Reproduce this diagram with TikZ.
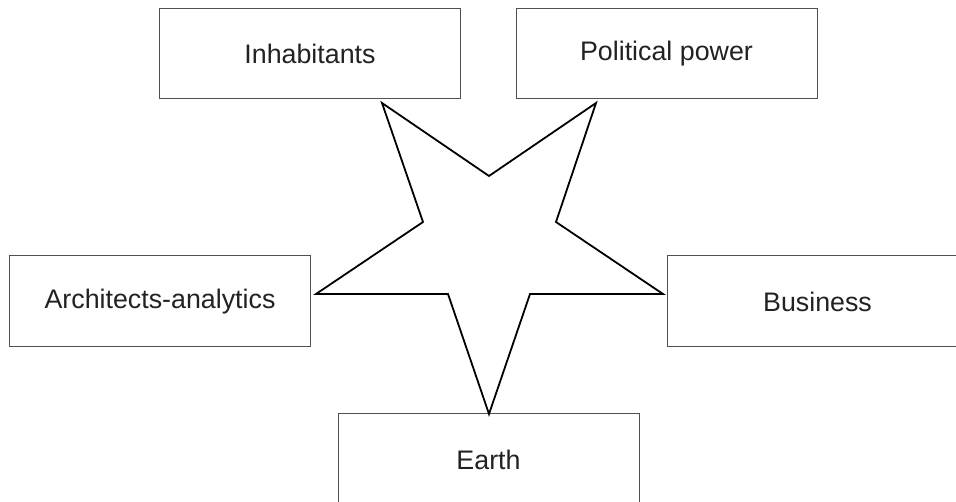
\documentclass[tikz,border=0pt]{standalone}
\usepackage{fontspec}
\setmainfont{Liberation Sans}
\definecolor{boxline}{HTML}{505050}
\definecolor{txt}{HTML}{222222}
\begin{document}
\begin{tikzpicture}[x=1pt,y=-1pt,
  box/.style={draw=boxline,line width=1pt,fill=white,inner sep=0pt,
    minimum width=301pt,minimum height=90pt,text=txt,
    font=\fontsize{26.8}{32}\selectfont},
  starline/.style={draw=black,line width=1.8pt,line join=miter}]
\useasboundingbox (0,0) rectangle (956,502);
\node[box] (inh) at (310,54) {Inhabitants};
\node[box] (pol) at (666.5,54) {Political power};
\node[box,minimum height=91pt] (arc) at (160,301.5) {Architects-analytics};
\node[box,minimum height=91pt] (bus) at (817.5,301.5) {Business};
\node[box,minimum height=91pt] (ear) at (488.5,459.5) {Earth};
\coordinate (tl) at (382,103);
\coordinate (it) at (489,176);
\coordinate (tr) at (596,103);
\coordinate (ir) at (556,222);
\coordinate (rt) at (663,294);
\coordinate (ibr) at (530,294);
\coordinate (bt) at (489,414);
\coordinate (ibl) at (448,294);
\coordinate (lt) at (316,294);
\coordinate (il) at (423,222);
\draw[starline] (tl) -- (it) -- (tr) -- (ir) -- (rt) -- (ibr) -- (bt) -- (ibl) -- (lt) -- (il) -- cycle;
\end{tikzpicture}
\end{document}
